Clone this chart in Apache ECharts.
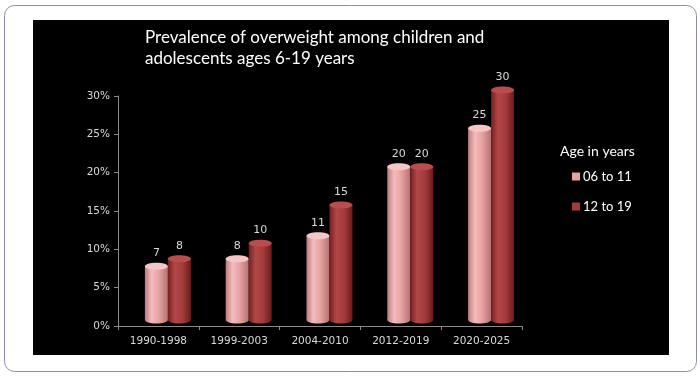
<!DOCTYPE html>
<html>
<head>
<meta charset="utf-8">
<script src="https://cdn.jsdelivr.net/npm/echarts@6/dist/echarts.min.js"></script>
<style>
html,body{margin:0;padding:0;background:#fff;}
#c{width:700px;height:376px;}
</style>
</head>
<body>
<div id="c"></div>
<script>
var categories = ['1990-1998', '1999-2003', '2004-2010', '2012-2019', '2020-2025'];
var seriesNames = ['06 to 11', '12 to 19'];
var values0611 = [7, 8, 11, 20, 25];
var values1219 = [8, 10, 15, 20, 30];
var yTicks = [0, 5, 10, 15, 20, 25, 30];

var grads = [
  [[0, '#c07c7c'], [0.3, '#f3bcbc'], [0.6, '#e8a2a2'], [1, '#b57272']],
  [[0, '#761f1f'], [0.3, '#b34747'], [0.65, '#a23a3a'], [1, '#691b1b']]
];
var tops = ['#f4c6c6', '#b94c4c'];

function lg(stops) {
  return new echarts.graphic.LinearGradient(0, 0, 1, 0, stops.map(function (s) { return { offset: s[0], color: s[1] }; }));
}

function makeRender(si) {
  return function (params, api) {
    var cat = api.value(0), val = api.value(1);
    var p = api.coord([cat, val]);
    var p0 = api.coord([cat, 0]);
    var w = 23, dx = 9.5, dy = -6, ry = 3.5;
    var cx = p[0] + dx + (si === 0 ? -w / 2 : w / 2);
    var top = p[1] + dy, base = p0[1] + dy;
    return {
      type: 'group',
      children: [
        { type: 'ellipse', shape: { cx: cx, cy: base, rx: w / 2, ry: ry }, style: { fill: lg(grads[si]) } },
        { type: 'rect', shape: { x: cx - w / 2, y: top, width: w, height: base - top }, style: { fill: lg(grads[si]) } },
        { type: 'ellipse', shape: { cx: cx, cy: top, rx: w / 2, ry: ry }, style: { fill: tops[si] } },
        { type: 'text', x: cx, y: top - 13, style: { text: String(val), fill: '#d9d9d9', font: '11px "DejaVu Sans"', align: 'center', verticalAlign: 'middle' } }
      ]
    };
  };
}

var chart = echarts.init(document.getElementById('c'), null, { renderer: 'canvas' });
var option = {
  animation: false,
  backgroundColor: 'transparent',
  graphic: [
    { type: 'rect', z: -10, shape: { x: 4.5, y: 5.5, width: 692, height: 366, r: 10 }, style: { fill: '#ffffff', stroke: '#8c8ab0', lineWidth: 1 } },
    { type: 'rect', z: -9, shape: { x: 33, y: 20, width: 636, height: 335 }, style: { fill: '#000000' } },
    { type: 'text', left: 560, top: 144, style: { text: 'Age in years', fill: '#ffffff', font: '14px Lato' } }
  ],
  title: {
    text: 'Prevalence of overweight among children and\nadolescents ages 6-19 years',
    left: 145, top: 27, padding: 0,
    textStyle: { color: '#ffffff', fontSize: 17, fontWeight: 'normal', fontFamily: 'Lato', lineHeight: 21 }
  },
  legend: {
    orient: 'vertical', left: 567, top: 165, itemWidth: 8, itemHeight: 8, itemGap: 17, icon: 'rect',
    textStyle: { color: '#ffffff', fontSize: 13, fontFamily: 'Lato', padding: [0, 0, 0, -2] },
    data: seriesNames
  },
  grid: { left: 118, right: 178, top: 96, bottom: 50 },
  xAxis: {
    type: 'category', data: categories,
    axisLine: { lineStyle: { color: '#8a8a8a' } },
    axisTick: { show: true, length: 4, lineStyle: { color: '#8a8a8a' } },
    axisLabel: { color: '#d9d9d9', fontSize: 10.5, fontFamily: 'DejaVu Sans', margin: 10 }
  },
  yAxis: {
    type: 'value', min: yTicks[0], max: yTicks[yTicks.length - 1], interval: 5,
    axisLine: { show: true, lineStyle: { color: '#8a8a8a' } },
    axisTick: { show: true, length: 4, lineStyle: { color: '#8a8a8a' } },
    splitLine: { show: false },
    axisLabel: { color: '#d9d9d9', fontSize: 10.5, fontFamily: 'DejaVu Sans', margin: 8, formatter: '{value}%' }
  },
  series: [
    { name: seriesNames[0], type: 'custom', renderItem: makeRender(0), itemStyle: { color: '#e8a2a2' }, encode: { x: 0, y: 1 },
      data: values0611.map(function (v, i) { return [i, v]; }) },
    { name: seriesNames[1], type: 'custom', renderItem: makeRender(1), itemStyle: { color: '#a33a3a' }, encode: { x: 0, y: 1 },
      data: values1219.map(function (v, i) { return [i, v]; }) }
  ]
};
chart.setOption(option);
</script>
</body>
</html>
